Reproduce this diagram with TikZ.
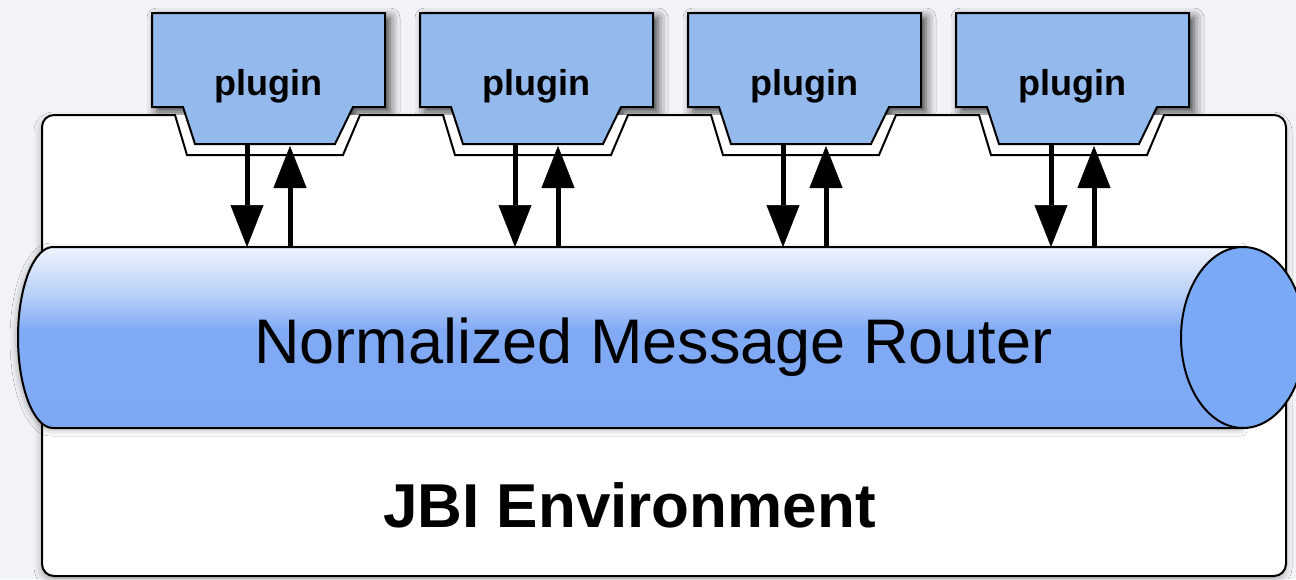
\documentclass[tikz,border=0pt]{standalone}
\usepackage{fontspec}
\setmainfont{Liberation Sans}
\usetikzlibrary{arrows.meta,shadows.blur}

\definecolor{bgpaper}{HTML}{F2F3F6}
\definecolor{pluginfill}{HTML}{94B9EC}
\definecolor{routerlight}{HTML}{EEF3FD}
\definecolor{routermid}{HTML}{B9D0F7}
\definecolor{routerblue}{HTML}{81AAF5}
\definecolor{routerdeep}{HTML}{7EA8F4}
\definecolor{capfill}{HTML}{7AA9F5}

% vertical shading of the router tube: light rim on top, flat blue below
\pgfdeclareverticalshading{routershade}{100bp}{%
  color(0bp)=(routerdeep); color(25bp)=(routerdeep);
  color(52bp)=(routerblue); color(62bp)=(routermid);
  color(75bp)=(routerlight); color(100bp)=(routerlight)}

\tikzset{
  outline/.style={draw=black, line width=2pt, line join=miter},
  envfill/.style={fill=white, rounded corners=12pt,
    blur shadow={shadow xshift=-1pt, shadow yshift=-4pt,
                 shadow blur radius=7pt, shadow opacity=30}},
  envline/.style={outline},
  pluginshadow/.style={
    blur shadow={shadow xshift=5pt, shadow yshift=-5pt,
                 shadow blur radius=10pt, shadow opacity=75}},
  pluginbox/.style={outline, fill=pluginfill},
  tube/.style={outline, shading=routershade,
    blur shadow={shadow xshift=-2pt, shadow yshift=-2pt,
                 shadow blur radius=6pt, shadow opacity=30}},
  tubecap/.style={outline, fill=capfill},
  flow/.style={draw=black, line width=5pt,
    -{Triangle[width=33pt,length=42pt,line width=0.5pt,fill=black]}},
  pluginlabel/.style={font=\bfseries\fontsize{36}{40}\selectfont, anchor=base},
  biglabel/.style={font=\fontsize{63}{70}\selectfont, anchor=base},
  envlabel/.style={font=\bfseries\fontsize{62}{70}\selectfont, anchor=base},
}

% outline of a plugin whose top-left corner lies at x = #1
\newcommand{\pluginpath}[1]{(#1,-13) -- ({#1+233},-13) -- ({#1+233},-107)
  -- ({#1+201},-107) -- ({#1+183},-144) -- ({#1+43},-144)
  -- ({#1+31},-107) -- (#1,-107) -- cycle}

\begin{document}
\begin{tikzpicture}[x=1pt,y=1pt]
  \useasboundingbox (0,0) rectangle (1296,-579);
  \clip (0,0) rectangle (1296,-579);
  \fill[bgpaper] (0,0) rectangle (1296,-579);

  % soft shadows cast by the plugins onto the backdrop
  \foreach \L in {152,420,688,956} {
    \path[pluginshadow] \pluginpath{\L};
  }

  % environment box: white body, then its outline with one socket per plugin
  \path[envfill] (42,-115) rectangle (1286,-576);
  \path[envline] (42,-127) arc[start angle=180, end angle=90, radius=12]
    -- (175,-115) -- (187,-155) -- (343,-155) -- (360,-115)
    -- (443,-115) -- (455,-155) -- (611,-155) -- (628,-115)
    -- (711,-115) -- (723,-155) -- (879,-155) -- (896,-115)
    -- (979,-115) -- (991,-155) -- (1147,-155) -- (1164,-115)
    -- (1274,-115) arc[start angle=90, end angle=0, radius=12]
    -- (1286,-564) arc[start angle=0, end angle=-90, radius=12]
    -- (54,-576) arc[start angle=270, end angle=180, radius=12]
    -- cycle;

  % message router tube
  \path[tube] (53,-247) -- (1243,-247) -- (1243,-428) -- (53,-428)
    arc[start angle=270, end angle=90, x radius=35, y radius=90.5] -- cycle;
  \path[tubecap] (1243,-337.5) ellipse[x radius=62, y radius=90.5];
  \node[biglabel] (nmr) at (653.5,-363) {Normalized Message Router};

  \node[envlabel] (jbi) at (629.5,-527) {JBI Environment};

  % plugins and their two-way links to the router
  \foreach \L [count=\i] in {152,420,688,956} {
    \coordinate (dn\i-s) at ({\L+95},-144);
    \coordinate (dn\i-e) at ({\L+95},-247);
    \coordinate (up\i-s) at ({\L+138},-247);
    \coordinate (up\i-e) at ({\L+138},-146);
    \draw[flow] (dn\i-s) -- (dn\i-e);
    \draw[flow] (up\i-s) -- (up\i-e);
    \path[pluginbox] \pluginpath{\L};
    \node[pluginlabel] (plugin\i) at ({\L+116},-95) {plugin};
  }
\end{tikzpicture}
\end{document}
